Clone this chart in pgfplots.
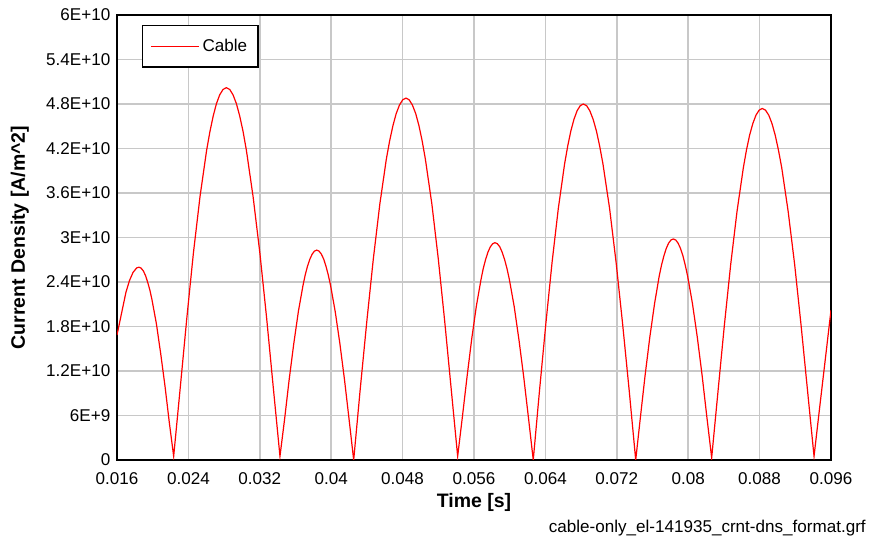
\documentclass[border=0pt]{standalone}
\usepackage{pgfplots}
\pgfplotsset{compat=1.18}
\usepackage{fontspec}
\setmainfont{Liberation Sans}
\definecolor{gridgray}{RGB}{200,200,200}
\begin{document}
\begin{tikzpicture}
\useasboundingbox (-87.75pt,-61.5pt) rectangle (564pt,345pt);
\begin{axis}[
  at={(0,0)}, anchor=south west,
  scale only axis,
  width=535.5pt, height=333.75pt,
  xmin=0.016, xmax=0.096, ymin=0, ymax=6,
  xtick={0.016,0.024,0.032,0.04,0.048,0.056,0.064,0.072,0.08,0.088,0.096},
  xticklabels={0.016,0.024,0.032,0.04,0.048,0.056,0.064,0.072,0.08,0.088,0.096},
  ytick={0,0.6,1.2,1.8,2.4,3,3.6,4.2,4.8,5.4,6},
  yticklabels={0,6E+9,1.2E+10,1.8E+10,2.4E+10,3E+10,3.6E+10,4.2E+10,4.8E+10,5.4E+10,6E+10},
  scaled ticks=false,
  tick style={draw=none},
  tick label style={font=\fontsize{12.8}{15}\selectfont},
  xticklabel style={yshift=-6pt},
  yticklabel style={xshift=-1.5pt},
  grid=major,
  major grid style={gridgray, line width=1.1pt},
  axis line style={black, line width=1.6pt},
  xlabel={Time [s]},
  ylabel={Current Density [A/m\textasciicircum 2]},
  label style={font=\bfseries\fontsize{14.6}{17}\selectfont},
  xlabel style={at={(axis description cs:0.5,-0.096)}, anchor=center},
  ylabel style={at={(axis description cs:-0.136,0.5)}, anchor=center},
  legend style={at={(axis description cs:0.035,0.9775)}, anchor=north west,
    draw=black, line width=1.1pt, font=\fontsize{12.8}{15}\selectfont,
    inner xsep=6pt, inner ysep=8pt},
  legend cell align=left,
  legend image code/.code={\path (0pt,0pt) -- (36pt,0pt); \draw[#1, line width=0.9pt] (2pt,0pt) -- (35pt,0pt);},
  clip=true,
]
\addplot[red, line width=0.9pt] coordinates {
(0.016,1.685) (0.0170,2.26) (0.0174,2.42) (0.0178,2.53) (0.0182,2.589) (0.01846,2.60)
(0.01870,2.587) (0.01895,2.55) (0.01919,2.488) (0.01943,2.40) (0.01968,2.293) (0.01992,2.16) (0.02041,1.84) (0.02089,1.44) (0.02138,0.995) (0.02186,0.507) (0.02235,0.05)
(0.02309,0.979) (0.02383,1.921) (0.02456,2.789) (0.02530,3.550) (0.02604,4.174) (0.02641,4.427) (0.02678,4.638) (0.02714,4.804) (0.02751,4.924) (0.02788,4.996) (0.02825,5.02)
(0.02863,4.996) (0.02900,4.924) (0.02938,4.804) (0.02975,4.638) (0.03013,4.427) (0.03050,4.174) (0.03125,3.550) (0.03201,2.789) (0.03276,1.921) (0.03351,0.979) (0.03426,0.05)
(0.03478,0.552) (0.03529,1.083) (0.03581,1.572) (0.03632,2.001) (0.03684,2.353) (0.03709,2.496) (0.03735,2.615) (0.03761,2.708) (0.03787,2.776) (0.03812,2.816) (0.03838,2.83)
(0.03864,2.816) (0.03890,2.776) (0.03916,2.708) (0.03941,2.615) (0.03967,2.496) (0.03993,2.353) (0.04045,2.001) (0.04097,1.572) (0.04149,1.083) (0.04200,0.552) (0.04252,0.0)
(0.04325,0.952) (0.04399,1.868) (0.04472,2.711) (0.04545,3.451) (0.04618,4.058) (0.04655,4.304) (0.04692,4.509) (0.04728,4.670) (0.04765,4.786) (0.04801,4.856) (0.04838,4.88)
(0.04874,4.856) (0.04910,4.786) (0.04947,4.670) (0.04983,4.509) (0.05019,4.304) (0.05055,4.058) (0.05128,3.451) (0.05200,2.711) (0.05272,1.868) (0.05345,0.952) (0.05417,0.05)
(0.05469,0.572) (0.05522,1.121) (0.05574,1.628) (0.05626,2.072) (0.05679,2.436) (0.05704,2.584) (0.05731,2.707) (0.05757,2.804) (0.05783,2.874) (0.05809,2.916) (0.05835,2.93)
(0.05862,2.916) (0.05889,2.874) (0.05915,2.804) (0.05942,2.707) (0.05969,2.584) (0.05996,2.436) (0.06050,2.072) (0.06103,1.628) (0.06157,1.121) (0.06210,0.572) (0.06264,0.0)
(0.06334,0.936) (0.06405,1.837) (0.06475,2.667) (0.06545,3.394) (0.06615,3.991) (0.06650,4.233) (0.06685,4.435) (0.06720,4.593) (0.06755,4.708) (0.06790,4.777) (0.06825,4.80)
(0.06862,4.777) (0.06898,4.708) (0.06935,4.593) (0.06972,4.435) (0.07008,4.233) (0.07045,3.991) (0.07119,3.394) (0.07192,2.667) (0.07265,1.837) (0.07339,0.936) (0.07412,0.0)
(0.07465,0.581) (0.07517,1.140) (0.07570,1.656) (0.07623,2.107) (0.07675,2.478) (0.07701,2.628) (0.07728,2.753) (0.07754,2.852) (0.07780,2.923) (0.07807,2.966) (0.07833,2.98)
(0.07860,2.966) (0.07887,2.923) (0.07914,2.852) (0.07941,2.753) (0.07967,2.628) (0.07994,2.478) (0.08048,2.107) (0.08102,1.656) (0.08156,1.140) (0.08209,0.581) (0.08263,0.03)
(0.08334,0.925) (0.08405,1.814) (0.08476,2.634) (0.08547,3.352) (0.08618,3.941) (0.08653,4.180) (0.08688,4.379) (0.08724,4.536) (0.08759,4.649) (0.08795,4.717) (0.0883,4.74)
(0.08866,4.717) (0.08903,4.649) (0.08939,4.536) (0.08975,4.379) (0.09011,4.180) (0.09048,3.941) (0.09120,3.352) (0.09193,2.634) (0.09265,1.814) (0.09338,0.925) (0.0941,0.05)
(0.0948,0.78) (0.0955,1.50) (0.0960,2.02)
};
\addlegendentry{Cable}
\end{axis}
\node[anchor=east, font=\fontsize{12.8}{15}\selectfont, inner sep=0pt] at (561.75pt,-51pt) {cable-only\_el-141935\_crnt-dns\_format.grf};
\end{tikzpicture}
\end{document}
